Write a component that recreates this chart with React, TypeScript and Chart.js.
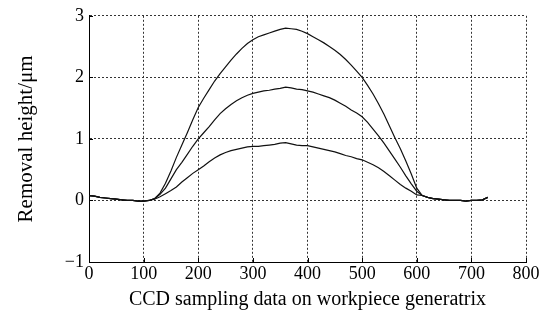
import React, { useEffect, useRef } from "react";
import { Chart, registerables } from "chart.js";

Chart.register(...registerables);

const positions = [
  0, 10, 20, 30, 40, 50, 60, 70, 80, 90, 100, 110,
  120, 130, 140, 150, 160, 170, 180, 190, 200,
  210, 220, 230, 240, 250, 260, 270, 280, 290, 300,
  310, 320, 330, 340, 350, 360, 370, 380, 390, 400,
  410, 420, 430, 440, 450, 460, 470, 480, 490, 500,
  510, 520, 530, 540, 550, 560, 570, 580, 590, 600,
  610, 620, 630, 640, 650, 660, 670, 680, 690, 700, 710, 720, 730,
];

const leadIn = [0.08, 0.07, 0.05, 0.04, 0.03, 0.02, 0.01, 0.0, 0.0, -0.01, -0.01, 0.0];
const tailOut = [0.08, 0.05, 0.03, 0.02, 0.01, 0.0, 0.0, 0.0, -0.01, 0.0, 0.0, 0.01, 0.05];

const removalHigh = [
  0.03, 0.12, 0.28, 0.48, 0.7, 0.9, 1.1, 1.31, 1.51,
  1.66, 1.8, 1.94, 2.06, 2.17, 2.28, 2.38, 2.47, 2.55, 2.61,
  2.66, 2.69, 2.72, 2.75, 2.78, 2.8, 2.79, 2.78, 2.75, 2.71,
  2.66, 2.61, 2.56, 2.5, 2.44, 2.37, 2.29, 2.2, 2.1, 2.0,
  1.87, 1.73, 1.57, 1.4, 1.21, 1.02, 0.84, 0.64, 0.43, 0.2,
];

const removalMid = [
  0.03, 0.1, 0.2, 0.35, 0.5, 0.62, 0.75, 0.88, 1.0,
  1.1, 1.2, 1.31, 1.41, 1.49, 1.56, 1.62, 1.67, 1.71, 1.74,
  1.76, 1.78, 1.79, 1.81, 1.82, 1.84, 1.83, 1.81, 1.8, 1.78,
  1.76, 1.73, 1.7, 1.67, 1.63, 1.58, 1.53, 1.47, 1.42, 1.36,
  1.27, 1.16, 1.05, 0.93, 0.8, 0.67, 0.54, 0.4, 0.27, 0.15,
];

const removalLow = [
  0.02, 0.06, 0.11, 0.16, 0.22, 0.3, 0.37, 0.44, 0.5,
  0.56, 0.63, 0.69, 0.74, 0.78, 0.81, 0.83, 0.85, 0.87, 0.88,
  0.88, 0.89, 0.9, 0.91, 0.93, 0.94, 0.92, 0.9, 0.89, 0.89,
  0.87, 0.85, 0.83, 0.81, 0.79, 0.76, 0.73, 0.71, 0.68, 0.66,
  0.62, 0.58, 0.53, 0.47, 0.4, 0.33, 0.26, 0.2, 0.15, 0.09,
];

const xTicks = [0, 100, 200, 300, 400, 500, 600, 700, 800];
const yTicks = [-1, 0, 1, 2, 3];
const yTickLabels = ["\u22121", "0", "1", "2", "3"];

const xTitle = "CCD sampling data on workpiece generatrix";
const yTitle = "Removal height/\u03bcm";

const FONT = "'Liberation Serif', 'Times New Roman', serif";

const buildSeries = (core: number[]) => {
  const ys = [...leadIn, ...core, ...tailOut];
  return positions.map((x, i) => ({ x, y: ys[i] }));
};

const inwardTicks = {
  id: "inwardTicks",
  afterDraw(chart: any) {
    const { ctx, chartArea, scales } = chart;
    ctx.save();
    ctx.setLineDash([]);
    ctx.strokeStyle = "#000";
    ctx.lineWidth = 1;
    ctx.beginPath();
    xTicks.forEach((v) => {
      const px = Math.round(scales.x.getPixelForValue(v)) + 0.5;
      ctx.moveTo(px, chartArea.bottom);
      ctx.lineTo(px, chartArea.bottom - 4);
    });
    yTicks.forEach((v) => {
      const py = Math.round(scales.y.getPixelForValue(v)) + 0.5;
      ctx.moveTo(chartArea.left, py);
      ctx.lineTo(chartArea.left + 4, py);
    });
    ctx.stroke();
    ctx.restore();
  },
};

export default function App() {
  const ref = useRef<HTMLCanvasElement | null>(null);

  useEffect(() => {
    if (!ref.current) return;
    const lineStyle = {
      borderColor: "#111",
      borderWidth: 1.2,
      pointRadius: 0,
      tension: 0,
      fill: false,
    };
    const chart = new Chart(ref.current, {
      type: "line",
      data: {
        datasets: [
          { label: "high", data: buildSeries(removalHigh), ...lineStyle },
          { label: "mid", data: buildSeries(removalMid), ...lineStyle },
          { label: "low", data: buildSeries(removalLow), ...lineStyle },
        ],
      },
      options: {
        responsive: false,
        animation: false,
        layout: { padding: { top: 13, right: 17, left: 14, bottom: 11 } },
        plugins: { legend: { display: false }, tooltip: { enabled: false } },
        scales: {
          x: {
            type: "linear",
            min: 0,
            max: 800,
            afterBuildTicks: (scale: any) => {
              scale.ticks = xTicks.map((v) => ({ value: v }));
            },
            afterFit: (scale: any) => {
              scale.height = 50;
            },
            ticks: {
              color: "#000",
              font: { family: FONT, size: 18 },
              padding: 1,
              maxRotation: 0,
            },
            grid: {
              color: "#333",
              lineWidth: 1,
              drawTicks: false,
            },
            border: { color: "#000", width: 1, dash: [2, 2] },
            title: {
              display: true,
              text: xTitle,
              color: "#000",
              font: { family: FONT, size: 20 },
              padding: { top: 0, bottom: 0 },
            },
          },
          y: {
            type: "linear",
            min: -1,
            max: 3,
            afterBuildTicks: (scale: any) => {
              scale.ticks = yTicks.map((v) => ({ value: v }));
            },
            afterFit: (scale: any) => {
              scale.width = 75;
            },
            ticks: {
              color: "#000",
              font: { family: FONT, size: 18 },
              padding: 5,
              callback: (v: any) => {
                const i = yTicks.indexOf(Number(v));
                return i >= 0 ? yTickLabels[i] : "";
              },
            },
            grid: {
              color: "#333",
              lineWidth: 1,
              drawTicks: false,
            },
            border: { color: "#000", width: 1, dash: [2, 2] },
            title: {
              display: true,
              text: yTitle,
              color: "#000",
              font: { family: FONT, size: 21 },
              padding: { top: 0, bottom: 0 },
            },
          },
        },
      } as any,
      plugins: [inwardTicks],
    });
    return () => chart.destroy();
  }, []);

  return (
    <div style={{ position: "fixed", left: 0, top: 0, width: 543, height: 323, background: "#fff" }}>
      <canvas ref={ref} width={543} height={323} style={{ width: 543, height: 323 }} />
    </div>
  );
}
